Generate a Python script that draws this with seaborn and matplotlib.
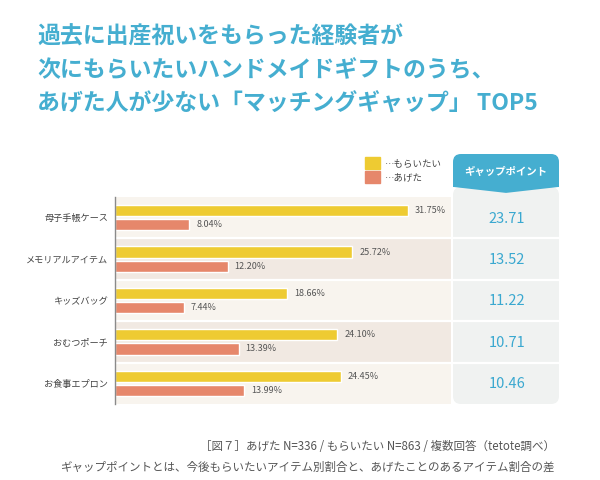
"""ハンドメイドギフト マッチングギャップ TOP5"""
import pandas as pd
import matplotlib
matplotlib.use("Agg")
import matplotlib.pyplot as plt
import seaborn as sns
from matplotlib.patches import FancyBboxPatch, Rectangle, Polygon

# データ
categories = ["母子手帳ケース", "メモリアルアイテム", "キッズバッグ", "おむつポーチ", "お食事エプロン"]
want = [31.75, 25.72, 18.66, 24.10, 24.45]   # もらいたい
gave = [8.04, 12.20, 7.44, 13.39, 13.99]     # あげた
gap_points = [23.71, 13.52, 11.22, 10.71, 10.46]
series = ["もらいたい", "あげた"]

TITLE_LINES = [
    "過去に出産祝いをもらった経験者が",
    "次にもらいたいハンドメイドギフトのうち、",
    "あげた人が少ない「マッチングギャップ」 TOP5",
]
NOTE_LINES = [
    "［図７］あげた N=336 / もらいたい N=863 / 複数回答（tetote調べ）",
    "ギャップポイントとは、今後もらいたいアイテム別割合と、あげたことのあるアイテム割合の差",
]

TEAL = "#45aed0"
TEAL_TEXT = "#3aa8d0"
YELLOW = "#eecb32"
SALMON = "#e6876b"
BAND_LIGHT = "#f8f4ee"
BAND_DARK = "#f1e9e2"
PANEL_GRAY = "#f0f2f1"
TEXT_GRAY = "#555555"

sns.set_theme(style="white")
plt.rcParams["font.family"] = ["Noto Sans CJK JP", "DejaVu Sans"]

df = pd.DataFrame({
    "item": categories * 2,
    "value": want + gave,
    "kind": [series[0]] * len(categories) + [series[1]] * len(categories),
})

W, H = 600, 480
fig = plt.figure(figsize=(6, 4.8), dpi=100)

# メイン棒グラフ
ax = fig.add_axes([115 / W, (H - 404) / H, (451 - 115) / W, (404 - 197) / H])
for i in range(len(categories)):
    ax.axhspan(i - 0.5, i + 0.5, color=BAND_LIGHT if i % 2 == 0 else BAND_DARK, lw=0, zorder=0)
for i in range(len(categories) - 1):
    ax.axhline(i + 0.5, color="white", lw=1.6, zorder=0.5)

sns.barplot(data=df, y="item", x="value", hue="kind", order=categories,
            hue_order=series, palette=[YELLOW, SALMON], orient="h", saturation=1,
            width=0.68, gap=0.2, ax=ax, legend=False, zorder=2)
for cont in ax.containers:
    ax.bar_label(cont, fmt="%.2f%%", padding=5, fontsize=6.5, color=TEXT_GRAY)

ax.set_xlim(0, 36.4)
ax.set_ylim(len(categories) - 0.5, -0.5)
ax.set_xlabel("")
ax.set_ylabel("")
ax.set_xticks([])
ax.tick_params(axis="y", length=0, pad=5, labelsize=6.6, labelcolor="#444444")
for side in ["top", "right", "bottom"]:
    ax.spines[side].set_visible(False)
ax.spines["left"].set_color("#8a8a8a")
ax.spines["left"].set_linewidth(1.0)

# 凡例
handles = [Rectangle((0, 0), 1, 1, color=YELLOW), Rectangle((0, 0), 1, 1, color=SALMON)]
fig.legend(handles, ["…" + s for s in series], loc="upper left",
           bbox_to_anchor=(365 / W, 1 - 157 / H), frameon=False,
           fontsize=6.8, handlelength=1.55, handleheight=1.55, handletextpad=0.5,
           labelspacing=0.25, borderpad=0, borderaxespad=0, labelcolor="#444444")

# ギャップポイント パネル
ax2 = fig.add_axes([453 / W, (H - 404) / H, 106 / W, (404 - 154) / H])
ax2.set_xlim(0, 1)
ax2.set_ylim(4.5, -1.54)
ax2.axis("off")
asp = (106 / 41.4)
ax2.add_patch(FancyBboxPatch((0, -0.74), 1, 4.5 + 0.74,
                             boxstyle="round,pad=0,rounding_size=0.075",
                             mutation_aspect=asp, fc=PANEL_GRAY, ec="none"))
ax2.add_patch(FancyBboxPatch((0, -1.54), 1, 0.8,
                             boxstyle="round,pad=0,rounding_size=0.075",
                             mutation_aspect=asp, fc=TEAL, ec="none"))
ax2.add_patch(Rectangle((0, -1.1), 1, 0.36, fc=TEAL, ec="none"))
ax2.add_patch(Polygon([(0, -0.745), (1, -0.745), (0.5, -0.6)], closed=True, fc=TEAL, ec="none"))
ax2.text(0.5, -1.12, "ギャップポイント", ha="center", va="center",
         color="white", fontsize=7.5, fontweight="bold")
for i in range(len(categories) - 1):
    ax2.axhline(i + 0.5, color="white", lw=1.6)
for i, v in enumerate(gap_points):
    ax2.text(0.51, i + 0.02, f"{v:.2f}", ha="center", va="center",
             color=TEAL_TEXT, fontsize=10.5, fontweight="normal")

# タイトル
for k, line in enumerate(TITLE_LINES):
    fig.text(37 / W, 1 - (37 + 33.5 * k) / H, line, ha="left", va="center",
             color=TEAL, fontsize=16.5, fontweight="bold")

# 注記
fig.text(555 / W, 1 - 447 / H, NOTE_LINES[0], ha="right", va="center",
         color=TEXT_GRAY, fontsize=8.3)
fig.text(555 / W, 1 - 467 / H, NOTE_LINES[1], ha="right", va="center",
         color=TEXT_GRAY, fontsize=8.3)

fig.savefig("out.png", dpi=100)
